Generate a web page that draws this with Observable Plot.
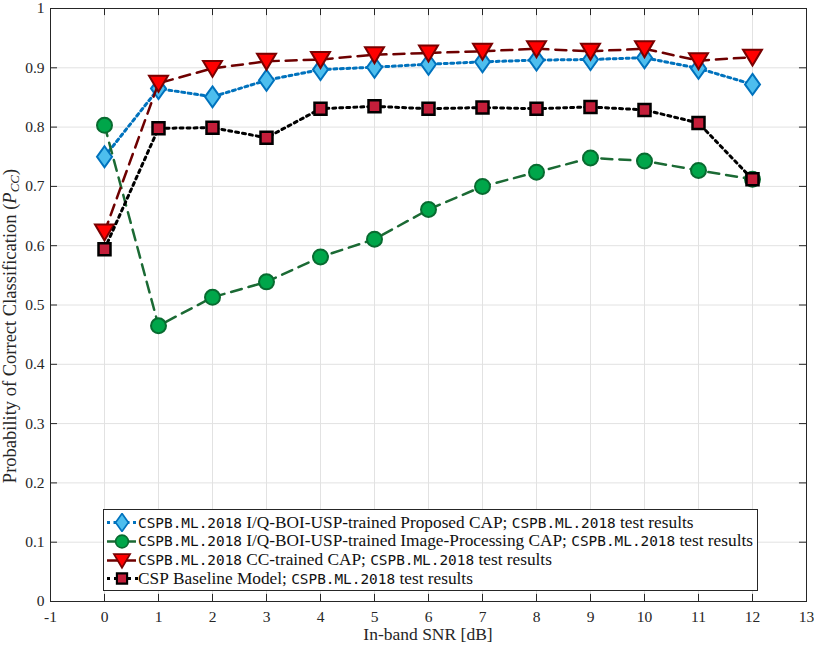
<!DOCTYPE html>
<html><head><meta charset="utf-8">
<script src="https://cdn.jsdelivr.net/npm/d3@7"></script>
<script src="https://cdn.jsdelivr.net/npm/@observablehq/plot@0.6"></script>
<style>
body{margin:0;background:#fff;}
#wrap{position:relative;width:814px;height:649px;}
#legend{position:absolute;left:103px;top:509px;width:653px;height:80px;border:1px solid #262626;background:#fff;font-family:"Liberation Serif",serif;font-size:17.3px;color:#111;}
.row{position:absolute;left:0;height:19px;display:flex;align-items:center;white-space:nowrap}
.row svg{flex:none}
.mono{font-family:"DejaVu Sans Mono",monospace;font-size:14.4px}
</style></head><body><div id="wrap"></div>
<script>
const snr = [0,1,2,3,4,5,6,7,8,9,10,11,12];
const proposedCAP = [0.750,0.865,0.851,0.879,0.897,0.901,0.906,0.910,0.913,0.914,0.917,0.899,0.872];
const imageCAP    = [0.803,0.465,0.513,0.539,0.581,0.611,0.661,0.700,0.724,0.748,0.743,0.727,0.712];
const ccCAP       = [0.623,0.874,0.899,0.911,0.914,0.922,0.925,0.928,0.932,0.928,0.932,0.912,0.918];
const cspBaseline = [0.594,0.798,0.799,0.782,0.831,0.835,0.831,0.833,0.831,0.834,0.829,0.807,0.712];
const xTicks = [-1,0,1,2,3,4,5,6,7,8,9,10,11,12,13];
const yTicks = [0,0.1,0.2,0.3,0.4,0.5,0.6,0.7,0.8,0.9,1];
const seriesNames = [
  ["CSPB.ML.2018", " I/Q-BOI-USP-trained Proposed CAP; ", "CSPB.ML.2018", " test results"],
  ["CSPB.ML.2018", " I/Q-BOI-USP-trained Image-Processing CAP; ", "CSPB.ML.2018", " test results"],
  ["CSPB.ML.2018", " CC-trained CAP; ", "CSPB.ML.2018", " test results"],
  ["", "CSP Baseline Model; ", "CSPB.ML.2018", " test results"]
];

const tallDiamond = {draw(c){c.moveTo(0,-10.5);c.lineTo(7.5,0);c.lineTo(0,10.5);c.lineTo(-7.5,0);c.closePath();}};
const triDown = {draw(c){c.moveTo(-9.5,-7.5);c.lineTo(9.5,-7.5);c.lineTo(0,8.5);c.closePath();}};
const square = {draw(c){c.rect(-6,-6,12,12);}};
const circle = {draw(c){c.moveTo(7.5,0);c.arc(0,0,7.5,0,2*Math.PI);}};

const styles = [
  {vals: proposedCAP, line:"#0072BD", dash:"3,3.5", lw:3, sym:tallDiamond, fill:"#4DBEEE", edge:"#0072BD", sw:2},
  {vals: imageCAP, line:"#1B6A34", dash:"11,7", lw:2.5, sym:circle, fill:"#00A64A", edge:"#086B30", sw:2},
  {vals: ccCAP, line:"#6E0000", dash:"11,7", lw:2.5, sym:triDown, fill:"#FF0000", edge:"#7A0000", sw:2},
  {vals: cspBaseline, line:"#000000", dash:"3,4", lw:3, sym:square, fill:"#C41E3A", edge:"#000000", sw:2.5}
];

const marks = [
  Plot.ruleX(xTicks, {stroke:"#e2e2e2", strokeWidth:1}),
  Plot.ruleY(yTicks, {stroke:"#e2e2e2", strokeWidth:1}),
];
styles.forEach(s => {
  const data = snr.map((x,i)=>({x, y:s.vals[i]}));
  marks.push(Plot.line(data, {x:"x", y:"y", stroke:s.line, strokeWidth:s.lw, strokeDasharray:s.dash}));
  marks.push(Plot.dot(data, {x:"x", y:"y", symbol:()=>s.sym, fill:s.fill, stroke:s.edge, strokeWidth:s.sw, r:5}));
});
// inward ticks on all four sides
marks.push(
  Plot.ruleX(xTicks, {y1:0, y2:0.012, stroke:"#262626"}),
  Plot.ruleX(xTicks, {y1:1, y2:0.988, stroke:"#262626"}),
  Plot.ruleY(yTicks, {x1:-1, x2:-0.87, stroke:"#262626"}),
  Plot.ruleY(yTicks, {x1:13, x2:12.87, stroke:"#262626"}),
  Plot.frame({stroke:"#262626"}),
  Plot.axisX({ticks:xTicks, tickSize:0, tickPadding:9, tickFormat:d=>String(d), label:null}),
  Plot.axisY({ticks:yTicks, tickSize:0, tickPadding:6, tickFormat:d=>String(+d.toFixed(1)), label:null})
);

const chart = Plot.plot({
  width:814, height:649,
  marginLeft:50, marginRight:8, marginTop:8, marginBottom:48,
  x:{domain:[-1,13]}, y:{domain:[0,1]},
  style:{fontFamily:"Liberation Serif, serif", fontSize:"15.5px", color:"#262626", background:"#fff"},
  marks
});
const svg = d3.select(chart);
svg.append("text").attr("x",428).attr("y",640).attr("text-anchor","middle")
  .attr("font-size","17.5px").attr("fill","#262626").text("In-band SNR [dB]");
const yl = svg.append("text").attr("transform","translate(16,326) rotate(-90)").attr("text-anchor","middle")
  .attr("font-size","18.5px").attr("fill","#262626");
yl.append("tspan").text("Probability of Correct Classification (");
yl.append("tspan").attr("font-style","italic").text("P");
yl.append("tspan").attr("font-style","italic").attr("font-size","13px").attr("dy","3").text("CC");
yl.append("tspan").attr("dy","-3").text(")");

const wrap = document.getElementById("wrap");
wrap.appendChild(chart);

// legend
const legend = document.createElement("div");
legend.id = "legend";
wrap.appendChild(legend);
styles.forEach((s,i)=>{
  const row = document.createElement("div");
  row.className = "row";
  row.style.top = (3 + i*18.8) + "px";
  const ns = "http://www.w3.org/2000/svg";
  const ic = document.createElementNS(ns,"svg");
  ic.setAttribute("width","34"); ic.setAttribute("height","19");
  const g = d3.select(ic);
  g.append("line").attr("x1",3).attr("x2",34).attr("y1",9.5).attr("y2",9.5)
    .attr("stroke",s.line).attr("stroke-width",s.lw).attr("stroke-dasharray",s.dash);
  const p = d3.path(); s.sym.draw(p);
  g.append("path").attr("d",p.toString()).attr("transform","translate(18,9.5) scale(0.85)")
    .attr("fill",s.fill).attr("stroke",s.edge).attr("stroke-width",s.sw);
  row.appendChild(ic);
  seriesNames[i].forEach((t,k)=>{
    if(!t) return;
    const sp = document.createElement("span");
    sp.textContent = t.replace(/ /g,"\u00a0");
    if(k%2===0) sp.className = "mono";
    row.appendChild(sp);
  });
  legend.appendChild(row);
});
</script></body></html>
